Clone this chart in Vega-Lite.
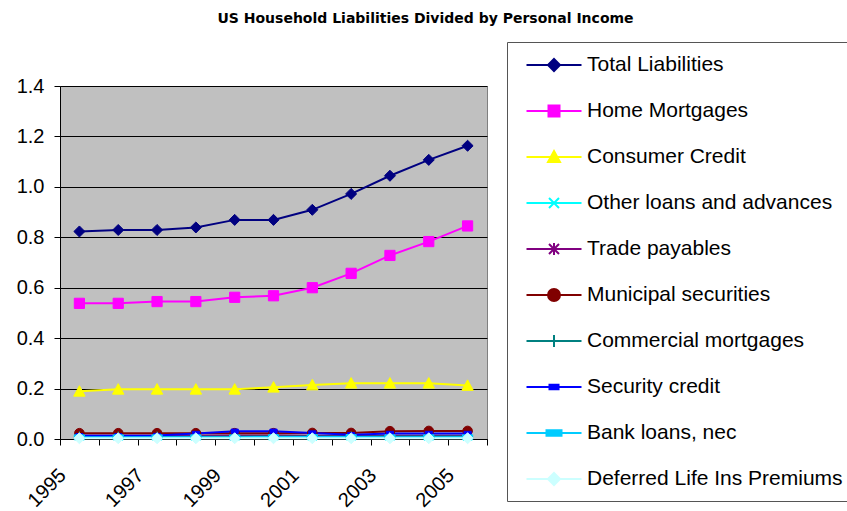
{
  "$schema": "https://vega.github.io/schema/vega-lite/v6.json",
  "autosize": {"type": "none"},
  "padding": {"left": 60, "top": 86, "right": 360, "bottom": 72},
  "width": 427,
  "height": 353,
  "background": "white",
  "title": {"text": "US Household Liabilities Divided by Personal Income", "anchor": "middle", "frame": "group", "dx": 152, "offset": 5, "baseline": "alphabetic", "font": "DejaVu Sans", "fontSize": 14, "fontWeight": "bold", "color": "black"},
  "config": {
    "view": {"fill": "#C0C0C0", "stroke": "#808080", "strokeWidth": 1},
    "font": "Liberation Sans"
  },
  "data": {"values": [
    {"year":1995,"series":"Total Liabilities","value":0.823},{"year":1996,"series":"Total Liabilities","value":0.829},{"year":1997,"series":"Total Liabilities","value":0.829},{"year":1998,"series":"Total Liabilities","value":0.839},{"year":1999,"series":"Total Liabilities","value":0.869},{"year":2000,"series":"Total Liabilities","value":0.869},{"year":2001,"series":"Total Liabilities","value":0.909},{"year":2002,"series":"Total Liabilities","value":0.972},{"year":2003,"series":"Total Liabilities","value":1.044},{"year":2004,"series":"Total Liabilities","value":1.107},{"year":2005,"series":"Total Liabilities","value":1.163},
    {"year":1995,"series":"Home Mortgages","value":0.538},{"year":1996,"series":"Home Mortgages","value":0.538},{"year":1997,"series":"Home Mortgages","value":0.545},{"year":1998,"series":"Home Mortgages","value":0.545},{"year":1999,"series":"Home Mortgages","value":0.562},{"year":2000,"series":"Home Mortgages","value":0.568},{"year":2001,"series":"Home Mortgages","value":0.600},{"year":2002,"series":"Home Mortgages","value":0.657},{"year":2003,"series":"Home Mortgages","value":0.728},{"year":2004,"series":"Home Mortgages","value":0.783},{"year":2005,"series":"Home Mortgages","value":0.845},
    {"year":1995,"series":"Consumer Credit","value":0.189},{"year":1996,"series":"Consumer Credit","value":0.197},{"year":1997,"series":"Consumer Credit","value":0.197},{"year":1998,"series":"Consumer Credit","value":0.197},{"year":1999,"series":"Consumer Credit","value":0.197},{"year":2000,"series":"Consumer Credit","value":0.205},{"year":2001,"series":"Consumer Credit","value":0.214},{"year":2002,"series":"Consumer Credit","value":0.221},{"year":2003,"series":"Consumer Credit","value":0.221},{"year":2004,"series":"Consumer Credit","value":0.221},{"year":2005,"series":"Consumer Credit","value":0.212},
    {"year":1995,"series":"Other loans and advances","value":0.011},{"year":1996,"series":"Other loans and advances","value":0.011},{"year":1997,"series":"Other loans and advances","value":0.011},{"year":1998,"series":"Other loans and advances","value":0.011},{"year":1999,"series":"Other loans and advances","value":0.011},{"year":2000,"series":"Other loans and advances","value":0.011},{"year":2001,"series":"Other loans and advances","value":0.010},{"year":2002,"series":"Other loans and advances","value":0.010},{"year":2003,"series":"Other loans and advances","value":0.010},{"year":2004,"series":"Other loans and advances","value":0.010},{"year":2005,"series":"Other loans and advances","value":0.010},
    {"year":1995,"series":"Trade payables","value":0.013},{"year":1996,"series":"Trade payables","value":0.013},{"year":1997,"series":"Trade payables","value":0.013},{"year":1998,"series":"Trade payables","value":0.013},{"year":1999,"series":"Trade payables","value":0.014},{"year":2000,"series":"Trade payables","value":0.014},{"year":2001,"series":"Trade payables","value":0.013},{"year":2002,"series":"Trade payables","value":0.013},{"year":2003,"series":"Trade payables","value":0.013},{"year":2004,"series":"Trade payables","value":0.013},{"year":2005,"series":"Trade payables","value":0.013},
    {"year":1995,"series":"Municipal securities","value":0.023},{"year":1996,"series":"Municipal securities","value":0.023},{"year":1997,"series":"Municipal securities","value":0.023},{"year":1998,"series":"Municipal securities","value":0.023},{"year":1999,"series":"Municipal securities","value":0.023},{"year":2000,"series":"Municipal securities","value":0.023},{"year":2001,"series":"Municipal securities","value":0.024},{"year":2002,"series":"Municipal securities","value":0.024},{"year":2003,"series":"Municipal securities","value":0.031},{"year":2004,"series":"Municipal securities","value":0.032},{"year":2005,"series":"Municipal securities","value":0.032},
    {"year":1995,"series":"Commercial mortgages","value":0.009},{"year":1996,"series":"Commercial mortgages","value":0.009},{"year":1997,"series":"Commercial mortgages","value":0.009},{"year":1998,"series":"Commercial mortgages","value":0.009},{"year":1999,"series":"Commercial mortgages","value":0.009},{"year":2000,"series":"Commercial mortgages","value":0.010},{"year":2001,"series":"Commercial mortgages","value":0.010},{"year":2002,"series":"Commercial mortgages","value":0.010},{"year":2003,"series":"Commercial mortgages","value":0.010},{"year":2004,"series":"Commercial mortgages","value":0.010},{"year":2005,"series":"Commercial mortgages","value":0.010},
    {"year":1995,"series":"Security credit","value":0.013},{"year":1996,"series":"Security credit","value":0.013},{"year":1997,"series":"Security credit","value":0.014},{"year":1998,"series":"Security credit","value":0.022},{"year":1999,"series":"Security credit","value":0.031},{"year":2000,"series":"Security credit","value":0.031},{"year":2001,"series":"Security credit","value":0.024},{"year":2002,"series":"Security credit","value":0.017},{"year":2003,"series":"Security credit","value":0.022},{"year":2004,"series":"Security credit","value":0.022},{"year":2005,"series":"Security credit","value":0.022},
    {"year":1995,"series":"Bank loans, nec","value":0.007},{"year":1996,"series":"Bank loans, nec","value":0.007},{"year":1997,"series":"Bank loans, nec","value":0.007},{"year":1998,"series":"Bank loans, nec","value":0.007},{"year":1999,"series":"Bank loans, nec","value":0.007},{"year":2000,"series":"Bank loans, nec","value":0.008},{"year":2001,"series":"Bank loans, nec","value":0.008},{"year":2002,"series":"Bank loans, nec","value":0.008},{"year":2003,"series":"Bank loans, nec","value":0.007},{"year":2004,"series":"Bank loans, nec","value":0.007},{"year":2005,"series":"Bank loans, nec","value":0.007},
    {"year":1995,"series":"Deferred Life Ins Premiums","value":0.003},{"year":1996,"series":"Deferred Life Ins Premiums","value":0.003},{"year":1997,"series":"Deferred Life Ins Premiums","value":0.003},{"year":1998,"series":"Deferred Life Ins Premiums","value":0.003},{"year":1999,"series":"Deferred Life Ins Premiums","value":0.003},{"year":2000,"series":"Deferred Life Ins Premiums","value":0.003},{"year":2001,"series":"Deferred Life Ins Premiums","value":0.003},{"year":2002,"series":"Deferred Life Ins Premiums","value":0.003},{"year":2003,"series":"Deferred Life Ins Premiums","value":0.003},{"year":2004,"series":"Deferred Life Ins Premiums","value":0.003},{"year":2005,"series":"Deferred Life Ins Premiums","value":0.003}
  ]},
  "layer": [
    {
      "mark": {"type": "line", "strokeWidth": 2},
      "encoding": {
        "x": {"field": "year", "type": "quantitative", "scale": {"domain": [1994.5, 2005.5], "nice": false, "zero": false},
          "axis": {"title": null, "orient": "bottom", "values": [1994.5,1995.5,1996.5,1997.5,1998.5,1999.5,2000.5,2001.5,2002.5,2003.5,2004.5,2005.5], "labels": false, "ticks": true, "tickSize": 6, "tickColor": "black", "domain": true, "domainColor": "black", "grid": false}},
        "y": {"field": "value", "type": "quantitative", "scale": {"domain": [0, 1.4], "nice": false},
          "axis": {"title": null, "values": [0,0.2,0.4,0.6,0.8,1.0,1.2,1.4], "format": ".1f", "grid": true, "gridColor": "black", "gridOpacity": 1, "tickSize": 6, "tickColor": "black", "domainColor": "black", "labelFontSize": 20, "labelColor": "black", "labelPadding": 10, "labelFont": "Liberation Sans"}},
        "color": {"field": "series", "type": "nominal", "legend": null,
          "scale": {"domain": ["Total Liabilities","Home Mortgages","Consumer Credit","Other loans and advances","Trade payables","Municipal securities","Commercial mortgages","Security credit","Bank loans, nec","Deferred Life Ins Premiums"],
                    "range": ["#000080","#FF00FF","#FFFF00","#00FFFF","#800080","#800000","#008080","#0000FF","#00CCFF","#CCFFFF"]}},
        "order": {"field": "year"}
      }
    },
    {
      "mark": {"type": "point", "filled": true, "size": 144, "strokeWidth": 1, "opacity": 1},
      "encoding": {
        "x": {"field": "year", "type": "quantitative",
          "axis": {"title": null, "orient": "bottom", "values": [1995,1997,1999,2001,2003,2005], "format": "d", "ticks": false, "domain": false, "grid": false, "labelAngle": -45, "labelAlign": "right", "labelBaseline": "middle", "labelOffset": -17, "labelPadding": 33, "labelFontSize": 20, "labelColor": "black", "labelFont": "Liberation Sans"}},
        "y": {"field": "value", "type": "quantitative"},
        "fill": {"field": "series", "type": "nominal", "legend": null,
          "scale": {"domain": ["Total Liabilities","Home Mortgages","Consumer Credit","Other loans and advances","Trade payables","Municipal securities","Commercial mortgages","Security credit","Bank loans, nec","Deferred Life Ins Premiums"],
                    "range": ["#000080","#FF00FF","#FFFF00","#00FFFF","#800080","#800000","#008080","#0000FF","#00CCFF","#CCFFFF"]}},
        "stroke": {"field": "series", "type": "nominal", "legend": null,
          "scale": {"domain": ["Total Liabilities","Home Mortgages","Consumer Credit","Other loans and advances","Trade payables","Municipal securities","Commercial mortgages","Security credit","Bank loans, nec","Deferred Life Ins Premiums"],
                    "range": ["#000080","#FF00FF","#FFFF00","#00FFFF","#800080","#800000","#008080","#0000FF","#00CCFF","#CCFFFF"]}},
        "shape": {"field": "series", "type": "nominal", "legend": null,
          "scale": {"domain": ["Total Liabilities","Home Mortgages","Consumer Credit","Other loans and advances","Trade payables","Municipal securities","Commercial mortgages","Security credit","Bank loans, nec","Deferred Life Ins Premiums"],
                    "range": ["M0,-0.92L0.92,0L0,0.92L-0.92,0Z","M-0.85,-0.85H0.85V0.85H-0.85Z","M0,-0.95L0.95,0.8L-0.95,0.8Z","M-0.7,-0.7L0.7,0.7M-0.7,0.7L0.7,-0.7","M-0.7,-0.7L0.7,0.7M-0.7,0.7L0.7,-0.7M0,-0.95V0.95","M-0.8,0A0.8,0.8 0 1,0 0.8,0A0.8,0.8 0 1,0 -0.8,0Z","M-0.9,0H0.9M0,-0.9V0.9","M-0.6,-0.35H0.6V0.35H-0.6Z","M-0.85,-0.4H0.85V0.4H-0.85Z","M0,-0.92L0.92,0L0,0.92L-0.92,0Z"]}}
      }
    },
    {
      "transform": [{"filter": "false"}],
      "mark": {"type": "point", "filled": true, "strokeWidth": 2, "opacity": 1},
      "encoding": {
        "x": {"field": "year", "type": "quantitative", "axis": null},
        "y": {"field": "value", "type": "quantitative"},
        "fill": {"field": "series", "type": "nominal",
          "scale": {"domain": ["Total Liabilities","Home Mortgages","Consumer Credit","Other loans and advances","Trade payables","Municipal securities","Commercial mortgages","Security credit","Bank loans, nec","Deferred Life Ins Premiums"],
                    "range": ["#000080","#FF00FF","#FFFF00","#00FFFF","#800080","#800000","#008080","#0000FF","#00CCFF","#CCFFFF"]},
          "legend": {"title": null, "orient": "none", "legendX": 447, "legendY": -44, "padding": 12, "strokeColor": "#555555", "fillColor": "white", "symbolSize": 400, "symbolStrokeWidth": 2, "symbolOffset": 24, "rowPadding": 25, "labelOffset": 22, "labelFontSize": 21, "labelFont": "Liberation Sans", "labelColor": "black", "labelLimit": 400}},
        "stroke": {"field": "series", "type": "nominal",
          "scale": {"domain": ["Total Liabilities","Home Mortgages","Consumer Credit","Other loans and advances","Trade payables","Municipal securities","Commercial mortgages","Security credit","Bank loans, nec","Deferred Life Ins Premiums"],
                    "range": ["#000080","#FF00FF","#FFFF00","#00FFFF","#800080","#800000","#008080","#0000FF","#00CCFF","#CCFFFF"]},
          "legend": {"title": null, "orient": "none", "legendX": 447, "legendY": -44, "padding": 12, "strokeColor": "#555555", "fillColor": "white", "symbolSize": 400, "symbolStrokeWidth": 2, "symbolOffset": 24, "rowPadding": 25, "labelOffset": 22, "labelFontSize": 21, "labelFont": "Liberation Sans", "labelColor": "black", "labelLimit": 400}},
        "shape": {"field": "series", "type": "nominal",
          "scale": {"domain": ["Total Liabilities","Home Mortgages","Consumer Credit","Other loans and advances","Trade payables","Municipal securities","Commercial mortgages","Security credit","Bank loans, nec","Deferred Life Ins Premiums"],
                    "range": ["M-2.75,0H2.75M0,-0.6L0.6,0L0,0.6L-0.6,0Z","M-2.75,0H2.75M-0.55,-0.55H0.55V0.55H-0.55Z","M-2.75,0H2.75M0,-0.6L0.6,0.5L-0.6,0.5Z","M-2.75,0H2.75M-0.5,-0.5L0.5,0.5M-0.5,0.5L0.5,-0.5","M-2.75,0H2.75M-0.5,-0.5L0.5,0.5M-0.5,0.5L0.5,-0.5M0,-0.6V0.6","M-2.75,0H2.75M-0.6,0A0.6,0.6 0 1,0 0.6,0A0.6,0.6 0 1,0 -0.6,0Z","M-2.75,0H2.75M0,-0.6V0.6","M-2.75,0H2.75M-0.45,-0.22H0.45V0.22H-0.45Z","M-2.75,0H2.75M-0.75,-0.28H0.75V0.28H-0.75Z","M-2.75,0H2.75M0,-0.6L0.6,0L0,0.6L-0.6,0Z"]},
          "legend": {"title": null, "orient": "none", "legendX": 447, "legendY": -44, "padding": 12, "strokeColor": "#555555", "fillColor": "white", "symbolSize": 400, "symbolStrokeWidth": 2, "symbolOffset": 24, "rowPadding": 25, "labelOffset": 22, "labelFontSize": 21, "labelFont": "Liberation Sans", "labelColor": "black", "labelLimit": 400}}
      }
    }
  ],
  "resolve": {
    "scale": {"fill": "independent", "stroke": "independent", "shape": "independent"},
    "legend": {"fill": "independent", "stroke": "independent", "shape": "independent"},
    "axis": {"x": "independent"}
  }
}
